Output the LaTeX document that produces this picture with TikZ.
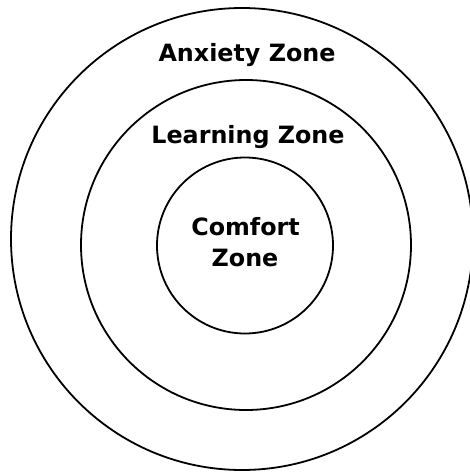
\documentclass[tikz,border=0pt]{standalone}
\usepackage{fontspec}
\setmainfont{DejaVu Sans}
\begin{document}
\begin{tikzpicture}[x=1pt,y=-1pt,
  ring/.style={draw=black,line width=1.8pt,circle,inner sep=0pt},
  zlabel/.style={font=\bfseries\fontsize{23.8}{31}\selectfont,anchor=base,inner sep=0pt}]
\useasboundingbox (0,0) rectangle (470,472);
\fill[white] (0,0) rectangle (470,472);
\clip (0,0) rectangle (470,472);
\node[ring,minimum size=462pt] (outer) at (242,239) {};
\node[ring,minimum size=330pt] (middle) at (246,245) {};
\node[ring,minimum size=176pt] (inner) at (245,245.5) {};
\node[zlabel] (anx) at (247,61) {Anxiety Zone};
\node[zlabel] (learn) at (248,143) {Learning Zone};
\node[zlabel] (comf1) at (245.5,235) {Comfort};
\node[zlabel] (comf2) at (245,266) {Zone};
\end{tikzpicture}
\end{document}
